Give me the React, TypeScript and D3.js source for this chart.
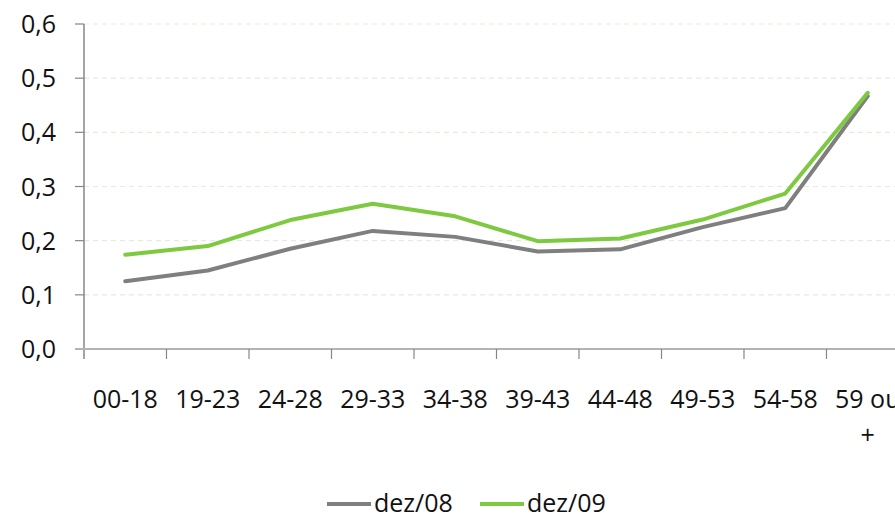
import React from 'react';
import * as d3 from 'd3';

const categories = ['00-18', '19-23', '24-28', '29-33', '34-38', '39-43', '44-48', '49-53', '54-58', '59 ou +'];
const dez08 = [0.125, 0.145, 0.185, 0.218, 0.207, 0.180, 0.184, 0.225, 0.260, 0.467];
const dez09 = [0.174, 0.190, 0.238, 0.268, 0.245, 0.199, 0.204, 0.239, 0.287, 0.473];
const yTicks = [0, 0.1, 0.2, 0.3, 0.4, 0.5, 0.6];

const series = [
  { name: 'dez/08', values: dez08, color: '#7f7f7f' },
  { name: 'dez/09', values: dez09, color: '#7dc940' },
];

const FONT = '"Open Sans", sans-serif';

const App = () => {
  const width = 895;
  const height = 519;
  const left = 84;
  const top = 24;
  const bottom = 349;
  const band = 82.5;

  const x = d3.scaleBand<string>()
    .domain(categories)
    .range([left, left + band * categories.length])
    .paddingInner(0)
    .paddingOuter(0);
  const y = d3.scaleLinear().domain([0, 0.6]).range([bottom, top]);

  const line = d3.line<number>()
    .x((_, i) => (x(categories[i]) ?? 0) + x.bandwidth() / 2)
    .y(d => y(d));

  const fmt = (v: number) => v.toFixed(1).replace('.', ',');

  return (
    <svg width={width} height={height} style={{ position: 'absolute', left: 0, top: 0, background: '#fff' }}>
      {/* grid lines */}
      {yTicks.filter(t => t > 0).map(t => (
        <line key={t} x1={left} x2={width} y1={y(t)} y2={y(t)}
          stroke="#ebe9dc" strokeWidth={1.2} strokeDasharray="5,4" />
      ))}
      {/* y axis */}
      <line x1={left} x2={left} y1={top} y2={bottom + 10} stroke="#868686" strokeWidth={1.5} />
      {yTicks.map(t => (
        <g key={t}>
          <line x1={left - 9} x2={left} y1={y(t)} y2={y(t)} stroke="#868686" strokeWidth={1.2} />
          <text x={56} y={y(t)} dy="0.36em" textAnchor="end" fontFamily={FONT} fontSize={25} fill="#111">
            {fmt(t)}
          </text>
        </g>
      ))}
      {/* x axis */}
      <line x1={left - 9} x2={width} y1={bottom} y2={bottom} stroke="#b3b3b3" strokeWidth={2} />
      {categories.map(c => (
        <line key={c} x1={(x(c) ?? 0) + band} x2={(x(c) ?? 0) + band} y1={bottom} y2={bottom + 10}
          stroke="#868686" strokeWidth={1.2} />
      ))}
      {categories.map(c => {
        const cx = (x(c) ?? 0) + x.bandwidth() / 2;
        const parts = c === '59 ou +' ? ['59 ou', '+'] : [c];
        return (
          <text key={c} x={cx} y={408} textAnchor="middle" fontFamily={FONT} fontSize={25} fill="#111">
            {parts.map((p, i) => (
              <tspan key={i} x={cx} dy={i === 0 ? 0 : 36}>{p}</tspan>
            ))}
          </text>
        );
      })}
      {/* lines */}
      {series.map(s => (
        <path key={s.name} d={line(s.values) ?? ''} fill="none" stroke={s.color} strokeWidth={4}
          strokeLinejoin="round" strokeLinecap="round" />
      ))}
      {/* legend */}
      {series.map((s, i) => {
        const lx = 327 + i * 153;
        return (
          <g key={s.name}>
            <line x1={lx} x2={lx + 44} y1={504} y2={504} stroke={s.color} strokeWidth={4} />
            <text x={lx + 47} y={512} fontFamily={FONT} fontSize={25} fill="#111">{s.name}</text>
          </g>
        );
      })}
    </svg>
  );
};

export default App;
